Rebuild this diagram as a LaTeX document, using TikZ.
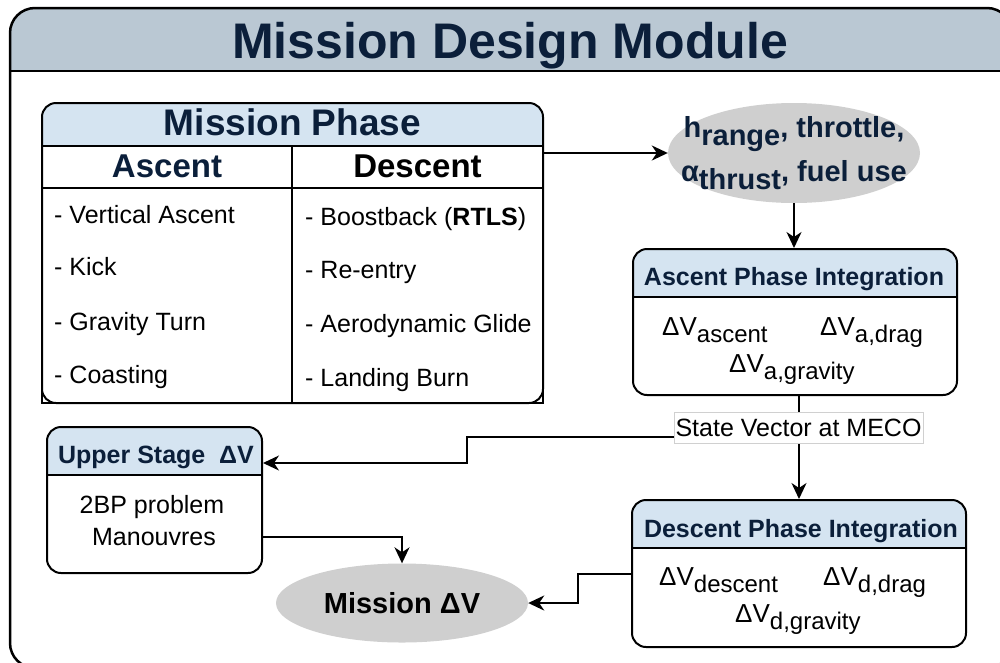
\documentclass[tikz,border=0pt]{standalone}
\usepackage{fontspec}
\setmainfont{Liberation Sans}
\usetikzlibrary{arrows.meta,shapes.geometric,fit}

\definecolor{navy}{HTML}{0B1F3A}
\definecolor{bandfill}{HTML}{BAC8D3}
\definecolor{headfill}{HTML}{D5E4F1}
\definecolor{ovalfill}{HTML}{CFCFCF}
\definecolor{tagline}{HTML}{D0D0D0}

% font size in points, baseline equal to size
\newcommand{\setpx}[1]{\fontsize{#1}{#1}\selectfont}
% Delta-V with a lowered index
\newcommand{\dvsub}[1]{ΔV\raisebox{-7pt}{\setpx{24}#1}}

\tikzset{
  box/.style={draw=black, line width=2pt, rounded corners=14pt, inner sep=0pt, fit={#1}},
  oval/.style={ellipse, fill=ovalfill, draw=none, inner sep=0pt},
  conn/.style={line width=2pt, -{Stealth[length=16pt,width=15pt,inset=5pt]}},
  item/.style={anchor=base west, inner sep=0pt, font=\setpx{25}},
  htitle/.style={anchor=base, inner sep=0pt, font=\bfseries\setpx{25}, text=navy},
  dv/.style={anchor=base west, inner sep=0pt, font=\setpx{26}},
  body/.style={anchor=base, inner sep=0pt, font=\setpx{25}},
}

% rounded box with a tinted header strip: name, left, top, right, bottom, strip bottom
\newcommand{\phasebox}[6]{%
  \begin{scope}
    \clip[rounded corners=14pt] (#2,#3) rectangle (#4,#5);
    \fill[headfill] (#2,#3) rectangle (#4,#6);
  \end{scope}
  \draw[line width=2pt] (#2,#6) -- (#4,#6);
  \node[box={(#2,#3) (#4,#5)}] (#1) {};
}

\begin{document}
\begin{tikzpicture}[x=1pt,y=-1pt]
\useasboundingbox (0,0) rectangle (1000,662);

% outer frame with title band
\begin{scope}
  \clip[rounded corners=25pt] (10,8) rectangle (1012,668);
  \fill[bandfill] (10,8) rectangle (1012,71);
\end{scope}
\draw[line width=2.5pt] (10,71) -- (1012,71);
\draw[line width=2.5pt, rounded corners=25pt] (10,8) rectangle (1012,668);
\node[anchor=base, inner sep=0pt, font=\bfseries\setpx{50}, text=navy] (title) at (510,58) {Mission Design Module};

% mission phase table
\begin{scope}
  \clip[rounded corners=14pt] (42,103) rectangle (543,403);
  \fill[headfill] (42,103) rectangle (543,146);
\end{scope}
\draw[line width=2pt] (42,146) -- (543,146) (42,188) -- (543,188) (292,146) -- (292,403);
\draw[line width=2pt] (42,188) -- (42,403) -- (543,403) -- (543,188);
\node[box={(42,103) (543,403)}] (phase) {};
\node[anchor=base, inner sep=0pt, font=\bfseries\setpx{37}, text=navy] (phasehead) at (292.5,135) {Mission Phase};
\node[anchor=base, inner sep=0pt, font=\bfseries\setpx{33}, text=navy] (aschead) at (167,177) {Ascent};
\node[anchor=base, inner sep=0pt, font=\bfseries\setpx{33}] (deschead) at (417.5,177) {Descent};
\node[item] (a1) at (54,223) {- Vertical Ascent};
\node[item] (a2) at (54,275) {- Kick};
\node[item] (a3) at (54,330) {- Gravity Turn};
\node[item] (a4) at (54,383) {- Coasting};
\node[item] (d1) at (305,225) {- Boostback (\textbf{RTLS})};
\node[item] (d2) at (305,278) {- Re-entry};
\node[item] (d3) at (305,332) {- Aerodynamic Glide};
\node[item] (d4) at (305,386) {- Landing Burn};

% guidance parameters
\node[oval, minimum width=252pt, minimum height=100pt] (ctrl) at (794,153) {};
\node[align=center, inner sep=0pt, font=\bfseries\fontsize{29}{44}\selectfont, text=navy] (ctrltext) at (ctrl.center)
  {h\raisebox{-8pt}{range}, throttle,\\ α\raisebox{-8pt}{thrust}, fuel use};

% ascent integration
\phasebox{asc}{633}{249}{957}{395}{297}
\node[htitle] (asctitle) at (794,285) {Ascent Phase Integration};
\node[dv] (asc1) at (662,335) {\dvsub{ascent}};
\node[dv] (asc2) at (820,335) {\dvsub{a,drag}};
\node[dv] (asc3) at (729,372) {\dvsub{a,gravity}};

% descent integration
\phasebox{desc}{632}{500}{966}{647}{548}
\node[htitle] (desctitle) at (801,537) {Descent Phase Integration};
\node[dv] (desc1) at (659,585) {\dvsub{descent}};
\node[dv] (desc2) at (823,585) {\dvsub{d,drag}};
\node[dv] (desc3) at (735,622) {\dvsub{d,gravity}};

% upper stage
\phasebox{upper}{47}{427}{262}{573}{475}
\node[htitle] (uppertitle) at (156,463) {Upper Stage\ \ ΔV};
\node[body] (up1) at (152,513) {2BP problem};
\node[body] (up2) at (154,545) {Manouvres};

% total
\node[oval, minimum width=252pt, minimum height=79pt] (total) at (402,603) {};
\node[inner sep=0pt, font=\bfseries\setpx{29}] (totaltext) at (total.center) {Mission ΔV};

% connectors
\draw[conn] (ctrl.west -| phase.east) -- (ctrl.west);
\draw[conn] (ctrl.south) -- (ctrl.south |- asc.north);
\draw[conn] (desc.north |- asc.south) -- (desc.north);
\coordinate (split) at (799,437);
\coordinate (jog) at (467,437);
\draw[conn] (split) -- (jog) |- ([yshift=37pt]upper.east);
\draw[conn] ([yshift=-37pt]upper.east) -| (total.north);
\draw[conn] (desc.west) -- ++(-53,0) |- (total.east);

% connector label
\node[draw=tagline, fill=white, line width=0.8pt, minimum width=249pt, minimum height=31pt,
      inner sep=0pt, font=\setpx{25}] (meco) at (798.5,427.5) {State Vector at MECO};
\end{tikzpicture}
\end{document}
